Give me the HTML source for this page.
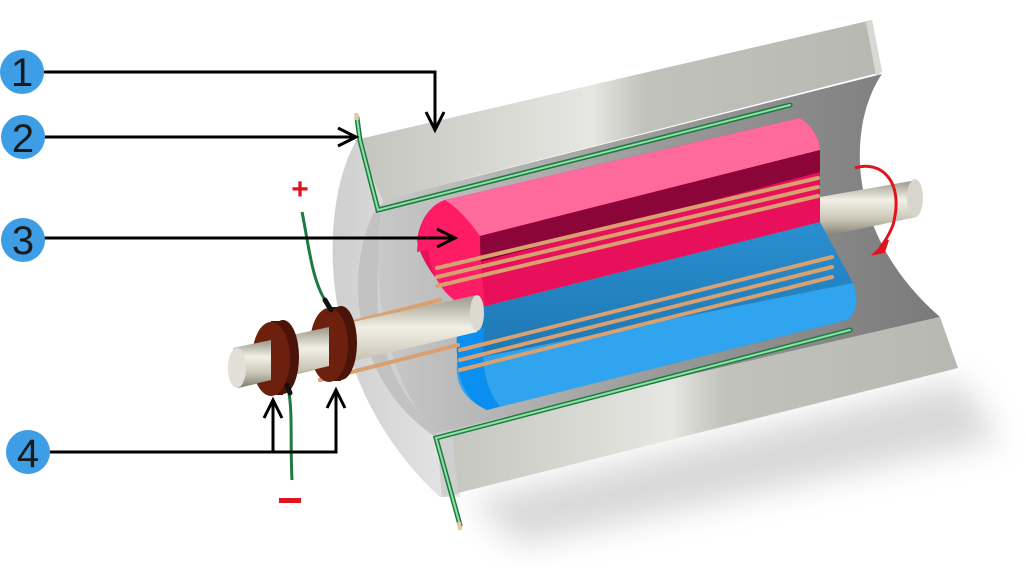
<!DOCTYPE html>
<html><head><meta charset="utf-8"><style>
html,body{margin:0;padding:0;background:#fff;width:1027px;height:568px;overflow:hidden}
svg{display:block}
text{font-family:"Liberation Sans","DejaVu Sans",sans-serif}
</style></head><body>
<svg width="1027" height="568" viewBox="0 0 1027 568" xmlns="http://www.w3.org/2000/svg">
<defs>
<filter id="blur" x="-20%" y="-20%" width="140%" height="160%"><feGaussianBlur stdDeviation="16"/></filter>
<linearGradient id="shellT" x1="0" y1="0" x2="1" y2="0">
<stop offset="0" stop-color="#c4c4be"/><stop offset="0.45" stop-color="#e6e6e2"/><stop offset="0.55" stop-color="#c2c2bc"/><stop offset="1" stop-color="#b8b8b2"/></linearGradient>
<linearGradient id="interior" x1="0" y1="0" x2="1" y2="0">
<stop offset="0" stop-color="#c8c8c8"/><stop offset="0.5" stop-color="#9a9a9a"/><stop offset="1" stop-color="#7a7a7a"/></linearGradient>
<linearGradient id="face" x1="0" y1="0" x2="1" y2="0">
<stop offset="0" stop-color="#cfcfcf"/><stop offset="1" stop-color="#e6e6e6"/></linearGradient>
<linearGradient id="shaft" x1="0" y1="0" x2="0" y2="1">
<stop offset="0" stop-color="#9a9688"/><stop offset="0.35" stop-color="#f2f0e6"/><stop offset="0.7" stop-color="#c8c4b4"/><stop offset="1" stop-color="#7e7a6c"/></linearGradient>
<linearGradient id="blueG" x1="0" y1="0" x2="0" y2="1">
<stop offset="0" stop-color="#2a8fd0"/><stop offset="1" stop-color="#1a6ea8"/></linearGradient>
</defs>

<polygon points="470,500 960,380 1000,440 520,545" fill="#aaa" opacity="0.45" filter="url(#blur)"/>

<path d="M358,138 C 318,200 312,380 440,497 L 460,497 L 460,140 Z" fill="url(#face)"/>
<path d="M378,205 C 345,260 345,380 440,440 L 470,440 L 470,200 Z" fill="#c2c2c2"/>
<path d="M390,215 C 368,270 368,380 440,430 L 480,430 L 480,210 Z" fill="#d0d0d0"/>

<path d="M383,200 L 882,74 C 850,120 840,230 940,317 L 437,433 C 380,380 370,260 383,200 Z" fill="url(#interior)"/>

<polygon points="355,140 872,20 882,72 383,200" fill="url(#shellT)"/>
<polygon points="872,20 882,72 876,76 866,22" fill="#d8d8d4"/>
<polygon points="437,433 940,317 958,368 442,497" fill="url(#shellT)"/>
<polygon points="437,433 452,430 458,494 442,497" fill="#cfcfcf"/>

<g fill="none" stroke-linecap="round">
<polyline points="357,118 360,140 378,210 790,105" stroke="#1e7a40" stroke-width="5"/>
<polyline points="357,118 360,140 378,210 790,105" stroke="#8fe0a8" stroke-width="2"/>
<polyline points="850,330 436,438 460,525" stroke="#1e7a40" stroke-width="5"/>
<polyline points="850,330 436,438 460,525" stroke="#8fe0a8" stroke-width="2"/>
</g>
<line x1="356" y1="113" x2="357" y2="120" stroke="#e8c89a" stroke-width="4"/>
<line x1="459" y1="522" x2="460" y2="530" stroke="#e8c89a" stroke-width="4"/>

<polygon points="820,197 917,180 917,217 820,237" fill="url(#shaft)"/>
<ellipse cx="915" cy="198" rx="8" ry="19" fill="#d8d6cc"/>

<path d="M470,310 L 820,222 L 853,283 C 860,300 855,315 847,320 L 487,410 C 465,400 455,380 457,333 Z" fill="url(#blueG)"/>
<path d="M457,362 L 853,283 C 860,300 855,315 847,320 L 487,410 C 465,400 455,385 457,362 Z" fill="#30a4ee"/>
<path d="M457,333 C 455,380 465,400 487,410 L 500,406 C 485,390 480,360 485,327 Z" fill="#0a8ef0"/>
<path d="M445,200 L 800,118 C 812,125 820,140 820,150 L 820,222 L 470,310 C 440,290 420,260 417,240 C 420,220 430,205 445,200 Z" fill="#e8105a"/>
<path d="M445,200 L 800,118 C 812,125 820,140 820,150 L 480,236 C 470,225 455,210 445,200 Z" fill="#ff6a9c"/>
<polygon points="480,236 820,150 820,172 480,262" fill="#8c0538"/>
<path d="M445,200 C 428,206 418,225 417,252 L 428,250 C 432,275 440,295 470,310 L 485,306 C 482,280 480,255 480,236 C 470,222 458,208 445,200 Z" fill="#ff1c66"/>

<g stroke="#d9a070" stroke-width="4" stroke-linecap="round">
<line x1="437" y1="268" x2="818" y2="178"/>
<line x1="437" y1="277" x2="818" y2="187"/>
<line x1="437" y1="286" x2="818" y2="196"/>
<line x1="460" y1="350" x2="832" y2="257"/>
<line x1="460" y1="360" x2="832" y2="267"/>
<line x1="460" y1="370" x2="832" y2="277"/>
<line x1="330" y1="328" x2="440" y2="300"/>
<line x1="320" y1="380" x2="458" y2="345"/>
</g>

<polygon points="233,348 477,295 477,332 238,388" fill="url(#shaft)"/>
<ellipse cx="477" cy="313" rx="7" ry="18" fill="#dcdad0"/>
<!-- ring 2 -->
<ellipse cx="341" cy="343" rx="16" ry="37" fill="#4a1408"/>
<rect x="329" y="307" width="12" height="74" fill="#4a1408"/>
<ellipse cx="329" cy="345" rx="19" ry="37" fill="#6e200e"/>
<polygon points="233,348 329,327 329,366 238,388" fill="url(#shaft)"/>
<!-- ring 1 -->
<ellipse cx="283" cy="357" rx="16" ry="37" fill="#4a1408"/>
<rect x="271" y="321" width="12" height="74" fill="#4a1408"/>
<ellipse cx="271" cy="359" rx="19" ry="37" fill="#6e200e"/>
<polygon points="233,348 271,340 271,380 238,388" fill="url(#shaft)"/>
<ellipse cx="237" cy="368" rx="9" ry="20" fill="#e2e0d6"/>

<path d="M302,212 C 308,240 312,285 328,304" fill="none" stroke="#1e7a40" stroke-width="3"/>
<path d="M288,388 C 293,410 290,440 292,480" fill="none" stroke="#1e7a40" stroke-width="3"/>
<line x1="325" y1="300" x2="331" y2="310" stroke="#111" stroke-width="5" stroke-linecap="round"/>
<line x1="287" y1="385" x2="290" y2="393" stroke="#111" stroke-width="5" stroke-linecap="round"/>
<text x="300" y="199" font-size="30" font-weight="bold" fill="#e0141e" text-anchor="middle">+</text>
<rect x="279" y="498" width="22" height="5" fill="#e0141e"/>

<path d="M855,168 C 880,160 905,180 893,225 C 888,238 882,245 880,248" fill="none" stroke="#e0141e" stroke-width="3"/>
<polygon points="874,254 888,240 884,252" fill="#e0141e" stroke="#e0141e" stroke-width="2"/>

<g fill="none" stroke="#000" stroke-width="3">
<polyline points="44,72 435,72 435,130"/>
<polyline points="426,112 435,130 444,112"/>
<line x1="44" y1="137" x2="356" y2="137"/>
<polyline points="338,128 356,137 338,146"/>
<line x1="44" y1="238" x2="455" y2="238"/>
<polyline points="437,229 455,238 437,247"/>
<polyline points="50,452 336,452 336,390"/>
<line x1="273" y1="452" x2="273" y2="400"/>
<polyline points="264,418 273,400 282,418"/>
<polyline points="327,408 336,390 345,408"/>
</g>

<g fill="#3d9ee6">
<circle cx="22" cy="72" r="22"/>
<circle cx="23" cy="137" r="22"/>
<circle cx="23" cy="240" r="22"/>
<circle cx="28" cy="452" r="22"/>
</g>
<g font-size="40" fill="#1a1a1a" text-anchor="middle">
<text x="22" y="86">1</text>
<text x="23" y="152">2</text>
<text x="23" y="254">3</text>
<text x="28" y="467">4</text>
</g>
</svg>
</body></html>
